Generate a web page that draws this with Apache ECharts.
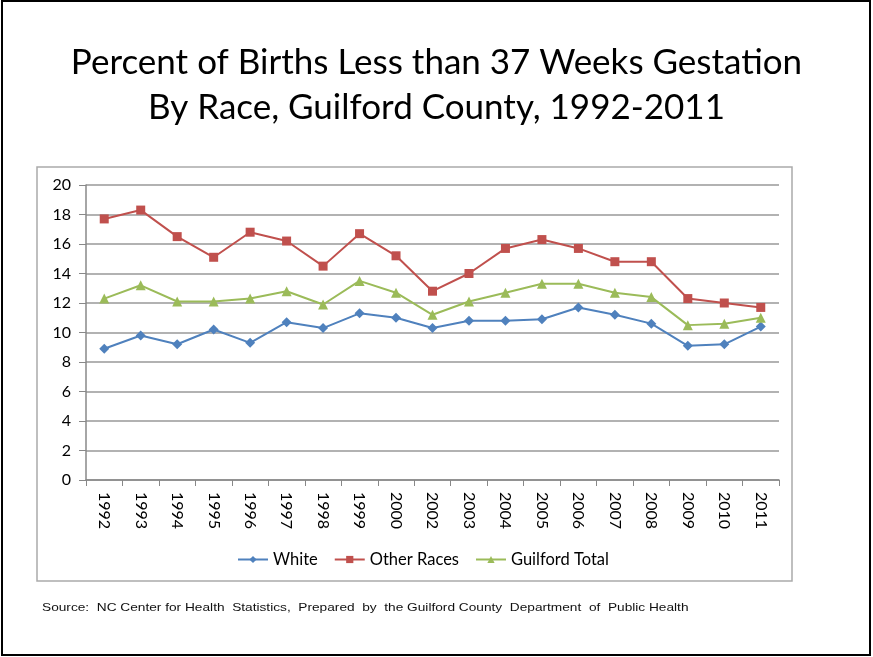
<!DOCTYPE html>
<html>
<head>
<meta charset="utf-8">
<script src="https://cdn.jsdelivr.net/npm/echarts@6/dist/echarts.min.js"></script>
<style>
  html, body { margin: 0; padding: 0; background: #fff; }
  #chart { width: 873px; height: 657px; }
</style>
</head>
<body>
<div id="chart"></div>
<script>
const years = ['1992', '1993', '1994', '1995', '1996', '1997', '1998', '1999', '2000', '2002',
  '2003', '2004', '2005', '2006', '2007', '2008', '2009', '2010', '2011']
const white = [8.9, 9.8, 9.2, 10.2, 9.3, 10.7, 10.3, 11.3, 11.0, 10.3,
  10.8, 10.8, 10.9, 11.7, 11.2, 10.6, 9.1, 9.2, 10.4]
const otherRaces = [17.7, 18.3, 16.5, 15.1, 16.8, 16.2, 14.5, 16.7, 15.2, 12.8,
  14.0, 15.7, 16.3, 15.7, 14.8, 14.8, 12.3, 12.0, 11.7]
const guilfordTotal = [12.3, 13.2, 12.1, 12.1, 12.3, 12.8, 11.9, 13.5, 12.7, 11.2,
  12.1, 12.7, 13.3, 13.3, 12.7, 12.4, 10.5, 10.6, 11.0]

const font = 'Lato, "Open Sans", sans-serif'
const chart = echarts.init(document.getElementById('chart'))

function lineSeries(name, data, color, symbol, size) {
  return {
    name, type: 'line', data,
    symbol, symbolSize: size,
    lineStyle: { color, width: 2 },
    itemStyle: { color },
    animation: false
  }
}

chart.setOption({
  animation: false,
  title: {
    text: 'Percent of Births Less than 37 Weeks Gestation\nBy Race, Guilford County, 1992-2011',
    left: 'center', top: 35,
    textStyle: { fontFamily: font, fontWeight: 'normal', fontSize: 35, lineHeight: 45, color: '#000' }
  },
  legend: {
    bottom: 84, left: 232,
    itemWidth: 30, itemHeight: 9, itemGap: 16,
    textStyle: { fontFamily: font, fontSize: 16.5, color: '#000' },
    data: ['White', 'Other Races', 'Guilford Total']
  },
  grid: { left: 86, right: 94, top: 185, bottom: 177 },
  xAxis: {
    type: 'category', data: years, boundaryGap: true,
    axisLine: { lineStyle: { color: '#888', width: 1.5 } },
    axisTick: { show: true, length: 6, lineStyle: { color: '#888' } },
    axisLabel: { rotate: -90, margin: 12, fontFamily: font, fontSize: 16, color: '#000' }
  },
  yAxis: {
    type: 'value', min: 0, max: 20, interval: 2,
    axisLine: { show: true, lineStyle: { color: '#888', width: 1.5 } },
    axisTick: { show: true, length: 7, lineStyle: { color: '#888' } },
    splitLine: { lineStyle: { color: '#999', width: 1.5 } },
    axisLabel: { margin: 15, fontFamily: font, fontSize: 16, color: '#000' }
  },
  series: [
    lineSeries('White', white, '#4F81BD', 'diamond', 10),
    lineSeries('Other Races', otherRaces, '#C0504D', 'rect', 9),
    lineSeries('Guilford Total', guilfordTotal, '#9BBB59', 'triangle', 10)
  ],
  graphic: [
    { type: 'rect', shape: { x: 2, y: 1, width: 868, height: 654 }, silent: true,
      style: { fill: 'none', stroke: '#000', lineWidth: 2 } },
    { type: 'rect', shape: { x: 37, y: 167, width: 755, height: 414 }, silent: true,
      style: { fill: 'none', stroke: '#aaa', lineWidth: 1.5 } },
    { type: 'text', x: 42, y: 602, scaleX: 1.19, silent: true,
      style: { text: 'Source:  NC Center for Health  Statistics,  Prepared  by  the Guilford County  Department  of  Public Health',
        font: '11.5px "Liberation Sans", Arial, sans-serif', fill: '#111' } }
  ]
})
</script>
</body>
</html>
